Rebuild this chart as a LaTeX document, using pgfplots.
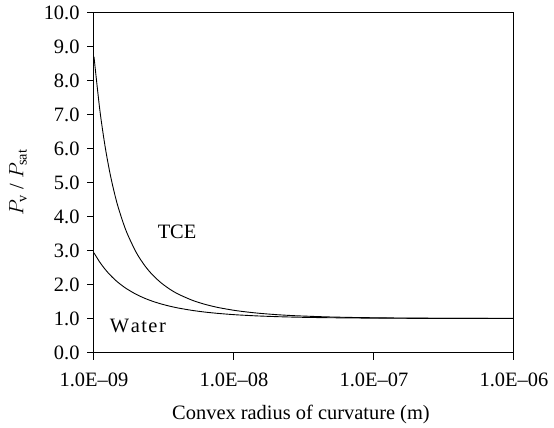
\documentclass[border=0pt]{standalone}
\usepackage{fontspec}
\setmainfont{Liberation Serif}
\usepackage{pgfplots}
\pgfplotsset{compat=1.18}
\begin{document}
\begin{tikzpicture}[font=\fontsize{20.5}{23}\selectfont]
\begin{axis}[
  xmode=log,
  scale only axis,
  width=420bp, height=340bp,
  xmin=1e-9, xmax=1e-6,
  ymin=0, ymax=10,
  xtick={1e-9,1e-8,1e-7,1e-6},
  xticklabels={1.0E--09,1.0E--08,1.0E--07,1.0E--06},
  xminorticks=false,
  ytick={0,1,...,10},
  /pgf/number format/fixed,
  /pgf/number format/fixed zerofill,
  /pgf/number format/precision=1,
  /pgf/number format/assume math mode=true,
  tick pos=left,
  tick align=outside,
  major tick length=7bp,
  tick style={black, line width=1pt},
  axis line style={line width=1pt},
  tick label style={font=\fontsize{20.5}{23}\selectfont},
  label style={font=\fontsize{20.5}{23}\selectfont},
  xticklabel style={anchor=base, yshift=-27bp},
  yticklabel style={xshift=-4bp},
  xlabel={Convex radius of curvature (m)},
  ylabel={$P_{\mathrm{v}}$ / $P_{\mathrm{sat}}$},
  xlabel style={at={(axis description cs:0.5,0)}, anchor=base, yshift=-66.5bp, xshift=-3bp},
  ylabel style={at={(axis description cs:-0.181,0.5)}, anchor=center},
  clip=true,
]
\addplot[black, line width=0.9pt, no marks, smooth] coordinates {
(1e-9,8.70)(1.1e-9,7.145)(1.2e-9,6.065)(1.3e-9,5.279)(1.4e-9,4.688)(1.5e-9,4.229)
(1.7e-9,3.569)(2e-9,2.949)(2.3e-9,2.561)(2.6e-9,2.298)(3e-9,2.057)(3.5e-9,1.855)
(4e-9,1.717)(5e-9,1.541)(6e-9,1.434)(7e-9,1.362)(8e-9,1.310)(1e-8,1.241)
(1.2e-8,1.198)(1.5e-8,1.155)(2e-8,1.114)(2.5e-8,1.090)(3e-8,1.075)(4e-8,1.056)
(5e-8,1.044)(7e-8,1.031)(1e-7,1.022)(1.5e-7,1.015)(2e-7,1.011)(3e-7,1.007)
(5e-7,1.004)(1e-6,1.002)
};
\addplot[black, line width=0.9pt, no marks, smooth] coordinates {
(1e-9,2.93)(1.1e-9,2.657)(1.2e-9,2.449)(1.3e-9,2.286)(1.4e-9,2.155)(1.5e-9,2.048)
(1.7e-9,1.882)(2e-9,1.712)(2.3e-9,1.596)(2.6e-9,1.512)(3e-9,1.431)(3.5e-9,1.360)
(4e-9,1.308)(5e-9,1.240)(6e-9,1.196)(7e-9,1.166)(8e-9,1.144)(1e-8,1.113)
(1.2e-8,1.094)(1.5e-8,1.074)(2e-8,1.055)(2.5e-8,1.044)(3e-8,1.036)(4e-8,1.027)
(5e-8,1.022)(7e-8,1.015)(1e-7,1.011)(1.5e-7,1.007)(2e-7,1.005)(3e-7,1.004)
(5e-7,1.002)(1e-6,1.001)
};
\node at (axis cs:3.92e-9,3.54) {TCE};
\node at (axis cs:2.06e-9,0.78) {W\kern1.5pt a\kern1.5pt t\kern1.5pt e\kern1.5pt r};
\coordinate (sw) at (rel axis cs:0,0);
\end{axis}
\path (sw) ++(-94bp,-75.5bp) rectangle ++(554bp,428bp);
\end{tikzpicture}
\end{document}
